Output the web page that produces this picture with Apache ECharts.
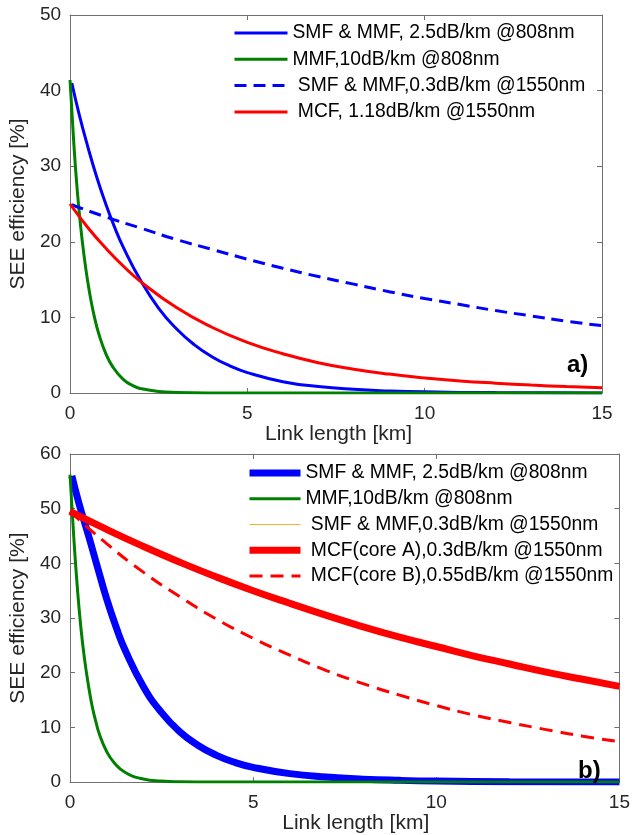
<!DOCTYPE html>
<html><head><meta charset="utf-8">
<script src="https://cdn.jsdelivr.net/npm/echarts@6/dist/echarts.min.js"></script>
<style>html,body{margin:0;padding:0;background:#fff}#c{width:633px;height:835px}</style>
</head><body><div id="c"></div>
<script>
// ---------- Panel a) ----------
const kmA_smf808 = [0.05, 0.25, 0.5, 0.75, 1, 1.25, 1.5, 2, 2.5, 3, 3.5, 4, 4.5, 5, 6, 7, 8, 9, 10, 12, 15];
const seeA_smf808 = [41, 37.0, 32.6, 28.6, 25.1, 22.0, 19.3, 14.8, 11.2, 8.5, 6.4, 4.8, 3.6, 2.7, 1.5, 0.85, 0.48, 0.27, 0.15, 0.05, 0.01];
const kmA_mmf808 = [0, 0.1, 0.2, 0.3, 0.4, 0.5, 0.6, 0.7, 0.8, 1, 1.2, 1.5, 1.8, 2, 2.5, 3, 4, 6, 15];
const seeA_mmf808 = [41.4, 33.5, 27.0, 22.0, 18.0, 14.7, 12.0, 9.8, 8.0, 5.3, 3.5, 1.8, 0.9, 0.58, 0.2, 0.07, 0.01, 0, 0];
const kmA_smf1550 = [0.05, 1, 2, 3, 4, 5, 6, 7, 8, 9, 10, 11, 12, 13, 14, 15];
const seeA_smf1550 = [24.9, 23.3, 21.8, 20.3, 19.0, 17.7, 16.5, 15.4, 14.4, 13.4, 12.5, 11.7, 10.9, 10.2, 9.5, 8.9];
const kmA_mcf = [0, 0.5, 1, 1.5, 2, 3, 4, 5, 6, 7, 8, 9, 10, 11, 12, 13, 14, 15];
const seeA_mcf = [25, 21.9, 19.2, 16.8, 14.7, 11.3, 8.7, 6.7, 5.2, 4.0, 3.15, 2.5, 2.0, 1.6, 1.3, 1.05, 0.85, 0.7];

// ---------- Panel b) ----------
const kmB_smf808 = [0.05, 0.25, 0.5, 0.75, 1, 1.25, 1.5, 2, 2.5, 3, 3.5, 4, 4.5, 5, 6, 7, 8, 9, 10, 12, 15];
const seeB_smf808 = [56, 50.8, 45.2, 39.3, 33.5, 28.5, 24.2, 17.5, 12.7, 9.2, 6.7, 4.9, 3.6, 2.7, 1.55, 0.92, 0.54, 0.32, 0.19, 0.07, 0.02];
const kmB_mmf808 = [0, 0.1, 0.2, 0.3, 0.4, 0.5, 0.6, 0.7, 0.8, 1, 1.2, 1.5, 2, 2.5, 3, 4, 6, 15];
const seeB_mmf808 = [56.2, 45, 35.5, 28, 22.3, 17.8, 14, 11.2, 8.8, 5.6, 3.6, 1.8, 0.56, 0.18, 0.06, 0.01, 0, 0];
const kmB_smf1550 = [0, 1, 2, 3, 4, 5, 6, 7, 8, 9, 10, 11, 12, 13, 14, 15];
const seeB_smf1550 = [49.5, 46.2, 43.1, 40.2, 37.5, 35.0, 32.7, 30.5, 28.4, 26.5, 24.8, 23.1, 21.6, 20.1, 18.8, 17.5];
const kmB_coreA = [0, 1, 2, 3, 4, 5, 6, 7, 8, 9, 10, 11, 12, 13, 14, 15];
const seeB_coreA = [49.5, 46.2, 43.1, 40.2, 37.5, 35.0, 32.7, 30.5, 28.4, 26.5, 24.8, 23.1, 21.6, 20.1, 18.8, 17.5];
const kmB_coreB = [0, 1, 2, 3, 4, 5, 6, 7, 8, 9, 10, 11, 12, 13, 14, 15];
const seeB_coreB = [49.5, 43.6, 38.4, 33.9, 29.8, 26.3, 23.2, 20.4, 18.0, 15.9, 14.0, 12.3, 10.9, 9.6, 8.4, 7.4];

// ---------- labels ----------
const namesA = ['SMF & MMF, 2.5dB/km @808nm', 'MMF,10dB/km @808nm', ' SMF & MMF,0.3dB/km @1550nm', ' MCF, 1.18dB/km @1550nm'];
const namesB = ['SMF & MMF, 2.5dB/km @808nm ', 'MMF,10dB/km @808nm ', ' SMF & MMF,0.3dB/km @1550nm ', ' MCF(core A),0.3dB/km @1550nm', ' MCF(core B),0.55dB/km @1550nm'];
const xTitle = 'Link length [km]';
const yTitle = 'SEE efficiency [%]';
const panelTags = ['a)', 'b)'];

const FONT = 'Liberation Sans, Arial, sans-serif';
const AXC = '#707070';
const TXT = '#262626';
const pairs = (xs, ys) => xs.map((x, i) => [x, ys[i]]);

function xAx(grid, main, nameGap, padL) {
  return {
    gridIndex: grid, type: 'value', min: 0, max: 15, interval: 5,
    position: main ? 'bottom' : 'top',
    axisLine: { show: true, onZero: false, lineStyle: { color: AXC, width: 1 } },
    axisTick: { show: true, inside: true, length: 5, lineStyle: { color: AXC } },
    axisLabel: { show: main, fontSize: 19, color: TXT, margin: 11, fontFamily: FONT },
    splitLine: { show: false },
    name: main ? xTitle : '', nameLocation: 'middle', nameGap: nameGap,
    nameTextStyle: { fontSize: 21, color: TXT, fontFamily: FONT, padding: [0, 0, 0, padL || 0] }
  };
}
function yAx(grid, main, max, nameGap) {
  return {
    gridIndex: grid, type: 'value', min: 0, max: max, interval: 10,
    position: main ? 'left' : 'right',
    axisLine: { show: true, onZero: false, lineStyle: { color: AXC, width: 1 } },
    axisTick: { show: true, inside: true, length: 5, lineStyle: { color: AXC } },
    axisLabel: { show: main, fontSize: 19, color: TXT, margin: 9, fontFamily: FONT },
    splitLine: { show: false },
    name: main ? yTitle : '', nameLocation: 'middle', nameGap: nameGap, nameRotate: 90,
    nameTextStyle: { fontSize: 21, color: TXT, fontFamily: FONT }
  };
}
function line(name, xi, xs, ys, color, width, dash, z) {
  return {
    type: 'line', name: name, xAxisIndex: xi, yAxisIndex: xi,
    data: pairs(xs, ys), symbol: 'none', smooth: 0.5, z: z,
    lineStyle: { color: color, width: width, type: dash || 'solid', cap: 'butt' },
    itemStyle: { color: color }, emphasis: { disabled: true }
  };
}

const chart = echarts.init(document.getElementById('c'), null, { renderer: 'canvas' });
chart.setOption({
  animation: false,
  backgroundColor: '#fff',
  grid: [
    { left: 69, right: 31, top: 15, height: 378 },
    { left: 62, right: 11, top: 454, height: 337 }
  ],
  xAxis: [xAx(0, true, 23, 5), xAx(0, false), xAx(1, true, 22, 22), xAx(1, false)],
  yAxis: [yAx(0, true, 50, 32), yAx(0, false, 50), yAx(1, true, 60, 28), yAx(1, false, 60)],
  legend: [
    {
      data: namesA, orient: 'vertical', left: 233, top: 23, padding: 0,
      itemWidth: 53, itemHeight: 14, itemGap: 6.3, selectedMode: false,
      textStyle: { fontSize: 19.3, color: '#000', fontFamily: FONT, lineHeight: 20 },
      itemStyle: { opacity: 0 }, lineStyle: { width: 'inherit', type: 'inherit' }
    },
    {
      data: namesB, orient: 'vertical', left: 246, top: 463, padding: 0,
      itemWidth: 51, itemHeight: 14, itemGap: 5.75, selectedMode: false,
      textStyle: { fontSize: 19.3, color: '#000', fontFamily: FONT, lineHeight: 20 },
      itemStyle: { opacity: 0 }, lineStyle: { width: 'inherit', type: 'inherit' }
    }
  ],
  graphic: [
    { type: 'text', left: 567, top: 353, z: 100, style: { text: panelTags[0], font: 'bold 24px ' + FONT, fill: '#000' } },
    { type: 'text', left: 578, top: 759, z: 100, style: { text: panelTags[1], font: 'bold 24px ' + FONT, fill: '#000' } }
  ],
  series: [
    line(namesA[0], 0, kmA_smf808, seeA_smf808, '#0000ff', 3, null, 2),
    line(namesA[1], 0, kmA_mmf808, seeA_mmf808, '#008000', 3, null, 3),
    line(namesA[2], 0, kmA_smf1550, seeA_smf1550, '#0000ff', 3, [12, 7], 4),
    line(namesA[3], 0, kmA_mcf, seeA_mcf, '#ff0000', 3, null, 5),
    line(namesB[0], 2, kmB_smf808, seeB_smf808, '#0000ff', 7, null, 2),
    line(namesB[1], 2, kmB_mmf808, seeB_mmf808, '#008000', 3, null, 3),
    line(namesB[2], 2, kmB_smf1550, seeB_smf1550, '#f7b32b', 1, null, 4),
    line(namesB[3], 2, kmB_coreA, seeB_coreA, '#ff0000', 7, null, 5),
    line(namesB[4], 2, kmB_coreB, seeB_coreB, '#ff0000', 3, [13, 8], 6)
  ]
});
</script></body></html>
